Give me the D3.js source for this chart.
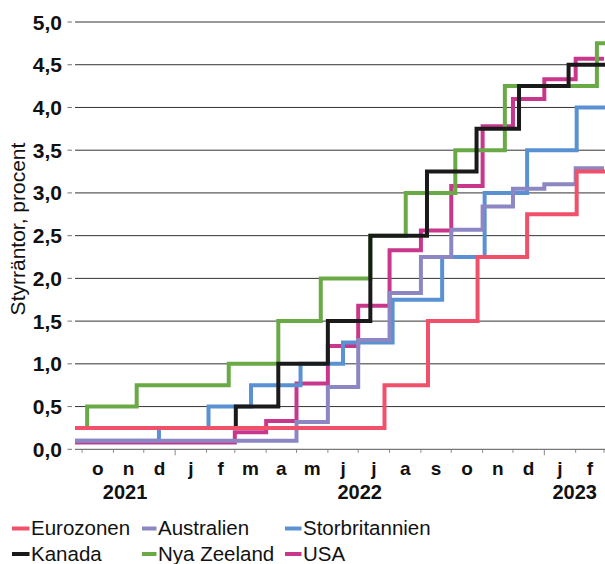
<!DOCTYPE html>
<html><head><meta charset="utf-8">
<script src="https://cdn.jsdelivr.net/npm/d3@7"></script>
<style>html,body{margin:0;padding:0;background:#fff}svg{display:block}</style>
</head><body>
<svg id="c" width="605" height="564"></svg>
<script>
// ---- data ----
const seriesNames = ["Eurozonen","Australien","Storbritannien","Kanada","Nya Zeeland","USA"];
const seriesColors = ["#f05069","#8c87c3","#5a91d2","#1a1a1a","#6aaa46","#c8378c"];

// daily policy rates: change dates and values
const euroDates = ["2021-09-24","2022-07-27","2022-09-08","2022-10-27","2022-12-15","2023-02-02"];
const euroValues = [0.25,0.75,1.5,2.25,2.75,3.25];
const ukDates = ["2021-09-24","2021-12-16","2022-02-03","2022-03-17","2022-05-05","2022-06-16","2022-08-04","2022-09-22","2022-11-03","2022-12-15","2023-02-02"];
const ukValues = [0.1,0.25,0.5,0.75,1.0,1.25,1.75,2.25,3.0,3.5,4.0];
const canDates = ["2021-09-24","2022-03-02","2022-04-13","2022-06-01","2022-07-13","2022-09-07","2022-10-26","2022-12-07","2023-01-25"];
const canValues = [0.25,0.5,1.0,1.5,2.5,3.25,3.75,4.25,4.5];
const nzDates = ["2021-09-24","2021-10-06","2021-11-24","2022-02-23","2022-04-13","2022-05-25","2022-07-13","2022-08-17","2022-10-05","2022-11-23","2023-02-22"];
const nzValues = [0.25,0.5,0.75,1.0,1.5,2.0,2.5,3.0,3.5,4.25,4.75];

// monthly averages Sep 2021 .. Feb 2023
const monthStarts = ["2021-09-01","2021-10-01","2021-11-01","2021-12-01","2022-01-01","2022-02-01","2022-03-01","2022-04-01","2022-05-01","2022-06-01","2022-07-01","2022-08-01","2022-09-01","2022-10-01","2022-11-01","2022-12-01","2023-01-01","2023-02-01"];
const ausValues = [0.10,0.10,0.10,0.10,0.10,0.10,0.10,0.10,0.32,0.73,1.28,1.83,2.25,2.57,2.84,3.05,3.10,3.29];
const usaValues = [0.08,0.08,0.08,0.08,0.08,0.08,0.20,0.33,0.77,1.21,1.68,2.33,2.56,3.08,3.78,4.10,4.33,4.57];
const monthlyEnd = "2023-03-01";

const domainStart = "2021-09-24", domainEnd = "2023-03-02";
const yTicks = [0,0.5,1,1.5,2,2.5,3,3.5,4,4.5,5];
const monthLabels = ["o","n","d","j","f","m","a","m","j","j","a","s","o","n","d","j","f"];
const monthLabelStarts = ["2021-10-01","2021-11-01","2021-12-01","2022-01-01","2022-02-01","2022-03-01","2022-04-01","2022-05-01","2022-06-01","2022-07-01","2022-08-01","2022-09-01","2022-10-01","2022-11-01","2022-12-01","2023-01-01","2023-02-01","2023-03-01"];
const yearLabels = ["2021","2022","2023"];
const yearStarts = ["2021-01-01","2022-01-01","2023-01-01","2024-01-01"];
const yTitle = "Styrräntor, procent";

// ---- chart ----
const P = d3.utcParse("%Y-%m-%d");
const svg = d3.select("#c");
const L = 75, R = 605, T = 22, B = 449.3;
const x = d3.scaleUtc().domain([P(domainStart), P(domainEnd)]).range([L, R]);
const y = d3.scaleLinear().domain([0,5]).range([B, T]);
const fmt = v => d3.format(".1f")(v).replace(".", ",");
const FF = "Liberation Sans, Arial, sans-serif";

// gridlines
svg.append("g").selectAll("line").data(yTicks).join("line")
  .attr("x1", L).attr("x2", R).attr("y1", d => y(d)).attr("y2", d => y(d))
  .attr("stroke", d => d === 0 ? "#555" : "#333").attr("stroke-width", 1);
// y tick dashes + labels
svg.append("g").selectAll("line").data(yTicks).join("line")
  .attr("x1", 67.5).attr("x2", 72).attr("y1", d => y(d)).attr("y2", d => y(d))
  .attr("stroke", "#777").attr("stroke-width", 1);
svg.append("g").selectAll("text").data(yTicks).join("text")
  .attr("x", 62).attr("y", d => y(d)).attr("dy", "0.36em")
  .attr("text-anchor", "end").attr("font-family", FF)
  .attr("font-weight", "bold").attr("font-size", 21).attr("fill", "#111").text(fmt);
// y title
svg.append("text").attr("transform", "translate(25,229) rotate(-90)")
  .attr("text-anchor", "middle").attr("font-family", FF)
  .attr("font-size", 21).attr("fill", "#111").text(yTitle);

// x ticks
const tickDates = monthLabelStarts.map(P);
svg.append("g").selectAll("line").data(tickDates).join("line")
  .attr("x1", d => x(d)).attr("x2", d => x(d)).attr("y1", B + 0.7)
  .attr("y2", d => d.getUTCMonth() === 0 ? B + 6 : B + 3.5)
  .attr("stroke", "#888").attr("stroke-width", 1);
// month labels
const clampX = d => Math.max(L, Math.min(R, x(d)));
svg.append("g").selectAll("text").data(monthLabels).join("text")
  .attr("x", (d, i) => (clampX(tickDates[i]) + clampX(tickDates[i + 1])) / 2)
  .attr("y", 474.5).attr("text-anchor", "middle")
  .attr("font-family", FF).attr("font-weight", "bold")
  .attr("font-size", 19).attr("fill", "#111").text(d => d);
// year labels
svg.append("g").selectAll("text").data(yearLabels).join("text")
  .attr("x", (d, i) => (clampX(P(yearStarts[i])) + clampX(P(yearStarts[i + 1]))) / 2)
  .attr("y", 499).attr("text-anchor", "middle")
  .attr("font-family", FF).attr("font-weight", "bold")
  .attr("font-size", 20).attr("fill", "#111").text(d => d);

// series
function daily(dates, values) {
  const pts = dates.map((d, i) => [Math.max(+P(d), +P(domainStart)), values[i]]);
  pts.push([+P(domainEnd), values[values.length - 1]]);
  return pts;
}
function monthly(values) {
  const pts = monthStarts.map((d, i) => [Math.max(+P(d), +P(domainStart)), values[i]]);
  pts.push([+P(monthlyEnd), values[values.length - 1]]);
  return pts;
}
const seriesData = [
  daily(euroDates, euroValues),
  monthly(ausValues),
  daily(ukDates, ukValues),
  daily(canDates, canValues),
  daily(nzDates, nzValues),
  monthly(usaValues)
];
const line = d3.line().x(d => x(new Date(d[0]))).y(d => y(d[1])).curve(d3.curveStepAfter);
const drawOrder = [5, 4, 2, 1, 3, 0];
svg.append("g").selectAll("path").data(drawOrder).join("path")
  .attr("d", i => line(seriesData[i])).attr("fill", "none")
  .attr("stroke", i => seriesColors[i]).attr("stroke-width", 4)
  .attr("stroke-linejoin", "miter").attr("stroke-linecap", "butt");

// legend
const legX = [12, 142, 285], legTextX = [31, 158, 303], legBase = [535, 560.5];
const lg = svg.append("g");
seriesNames.forEach((n, i) => {
  const c = i % 3, r = Math.floor(i / 3);
  lg.append("line").attr("x1", legX[c]).attr("x2", legTextX[c] - 1.5)
    .attr("y1", legBase[r] - 6.5).attr("y2", legBase[r] - 6.5)
    .attr("stroke", seriesColors[i]).attr("stroke-width", 4);
  lg.append("text").attr("x", legTextX[c]).attr("y", legBase[r])
    .attr("font-family", FF).attr("font-size", 20.5)
    .attr("fill", "#111").text(n);
});
</script>
</body></html>
